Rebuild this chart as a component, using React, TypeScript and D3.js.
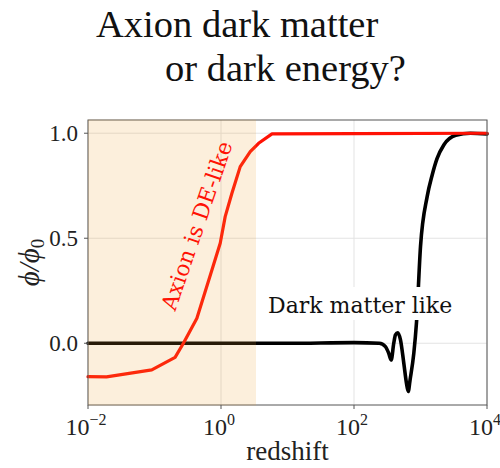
import React from "react";
import * as d3 from "d3";

// Redshift samples and field values (phi / phi_0) for each scenario
const redZ = [0.01, 0.019, 0.091, 0.204, 0.272, 0.434, 0.73, 0.973, 1.156, 1.459, 1.945, 2.754, 3.673, 5.848, 100, 10000];
const redPhi = [-0.159, -0.16, -0.127, -0.067, 0.0, 0.119, 0.349, 0.476, 0.603, 0.714, 0.841, 0.912, 0.952, 0.997, 0.998, 1.0];

const blackZ = [0.01, 10, 100, 240, 297, 333, 362, 396, 420, 455, 500, 561, 615, 653, 700, 793, 871, 1000, 1259, 1496, 1778, 2239, 3388, 5623, 10000];
const blackPhi = [0, 0, 0.003, 0, -0.016, -0.048, -0.08, 0, 0.04, 0.05, 0.016, -0.095, -0.19, -0.23, -0.17, -0.048, 0.1, 0.46, 0.698, 0.8, 0.88, 0.944, 0.99, 1.0, 0.997];

// Dark-energy-like redshift window
const shadeRange = [0.01, 3.36];

const xTicks = [0.01, 1, 100, 10000];
const xTickExp = ["\u22122", "0", "2", "4"];
const yTicks = [0.0, 0.5, 1.0];

const titleLines = ["Axion dark matter", "or dark energy?"];
const redLabel = "Axion is DE-like";
const blackLabel = "Dark matter like";

const W = 500;
const H = 468;
const plot = { left: 88, right: 487, top: 120, bottom: 405 };

export default function App() {
  const x = d3.scaleLog().domain([0.01, 10000]).range([plot.left, plot.right]);
  const y = d3.scaleLinear().domain([-0.294, 1.063]).range([plot.bottom, plot.top]);

  const redLine = d3
    .line<number>()
    .x((_, i) => x(redZ[i]))
    .y((d) => y(d))
    .curve(d3.curveLinear)(redPhi) as string;

  const blackLine = d3
    .line<number>()
    .x((_, i) => x(blackZ[i]))
    .y((d) => y(d))
    .curve(d3.curveMonotoneX)(blackPhi) as string;

  const serif = "'Liberation Serif', 'DejaVu Serif', serif";
  const labelFont = "'DejaVu Serif', serif";

  return (
    <svg
      width={W}
      height={H}
      viewBox={`0 0 ${W} ${H}`}
      style={{ position: "absolute", left: 0, top: 0, background: "#fff" }}
    >
      {/* title */}
      <text x={96} y={37} fontFamily={serif} fontSize={38.5} fill="#111">
        {titleLines[0]}
      </text>
      <text x={165} y={81} fontFamily={serif} fontSize={38.5} fill="#111">
        {titleLines[1]}
      </text>

      {/* grid */}
      <g stroke="#e3e3e3" strokeWidth={1}>
        {yTicks.map((t) => (
          <line key={"gy" + t} x1={plot.left} x2={plot.right} y1={y(t)} y2={y(t)} />
        ))}
        {xTicks.map((t) => (
          <line key={"gx" + t} x1={x(t)} x2={x(t)} y1={plot.top} y2={plot.bottom} />
        ))}
      </g>

      {/* curves */}
      <path d={blackLine} fill="none" stroke="#000" strokeWidth={3.6} strokeLinejoin="round" strokeLinecap="round" />
      <path d={redLine} fill="none" stroke="#ff1205" strokeWidth={3.2} strokeLinejoin="round" strokeLinecap="round" />

      {/* spines */}
      <rect
        x={plot.left}
        y={plot.top}
        width={plot.right - plot.left}
        height={plot.bottom - plot.top}
        fill="none"
        stroke="#555"
        strokeWidth={1}
      />

      {/* shaded window */}
      <rect
        x={x(shadeRange[0])}
        y={plot.top - 0.5}
        width={x(shadeRange[1]) - x(shadeRange[0])}
        height={plot.bottom - plot.top + 1}
        fill="#f0a030"
        fillOpacity={0.17}
      />

      {/* y axis ticks */}
      <g fontFamily={serif} fontSize={23} fill="#222">
        {yTicks.map((t) => (
          <g key={"yt" + t}>
            <line x1={plot.left - 4} x2={plot.left} y1={y(t)} y2={y(t)} stroke="#555" strokeWidth={1} />
            <text x={plot.left - 10} y={y(t)} textAnchor="end" dominantBaseline="central">
              {d3.format(".1f")(t)}
            </text>
          </g>
        ))}
      </g>

      {/* x axis ticks */}
      <g fontFamily={serif} fill="#222">
        {xTicks.map((t, i) => (
          <g key={"xt" + t}>
            <line x1={x(t)} x2={x(t)} y1={plot.bottom} y2={plot.bottom + 4} stroke="#555" strokeWidth={1} />
            <text x={x(t) - 2} y={435} textAnchor="middle" fontSize={24}>
              10
              <tspan fontSize={16} dy={-10}>
                {xTickExp[i]}
              </tspan>
            </text>
          </g>
        ))}
      </g>

      {/* axis labels */}
      <text x={(plot.left + plot.right) / 2} y={460} textAnchor="middle" fontFamily={serif} fontSize={27} fill="#222">
        redshift
      </text>
      <text
        transform={`translate(39, ${(plot.top + plot.bottom) / 2}) rotate(-90)`}
        textAnchor="middle"
        fontFamily={serif}
        fontSize={29}
        fontStyle="italic"
        fill="#222"
      >
        {"\u03D5/\u03D5"}
        <tspan fontSize={19} dy={5} fontStyle="normal">0</tspan>
      </text>

      {/* annotations */}
      <text
        transform="translate(204, 228) rotate(-71)"
        textAnchor="middle"
        fontFamily={labelFont}
        fontSize={22}
        fill="#ff1205"
      >
        {redLabel}
      </text>
      <rect x={262} y={287} width={195} height={33} fill="#fff" />
      <text x={268} y={313} fontFamily={labelFont} fontSize={22} fill="#111">
        {blackLabel}
      </text>
    </svg>
  );
}
